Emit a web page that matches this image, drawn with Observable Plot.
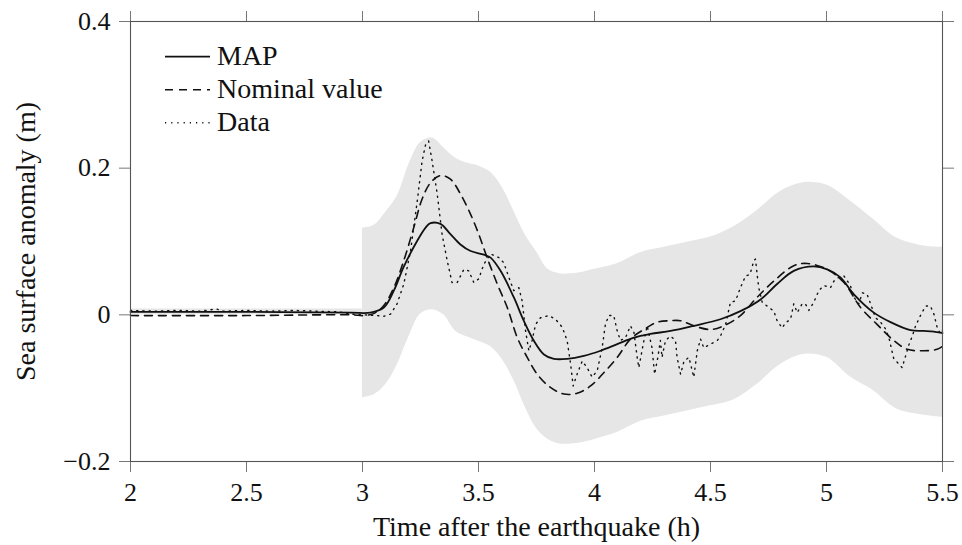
<!DOCTYPE html>
<html>
<head>
<meta charset="utf-8">
<script src="https://cdn.jsdelivr.net/npm/d3@7"></script>
<script src="https://cdn.jsdelivr.net/npm/@observablehq/plot@0.6"></script>
<style>
  html, body { margin: 0; padding: 0; background: #fff; }
  #chart svg { display: block; }
</style>
</head>
<body>
<div id="chart"></div>
<script>
// Time after the earthquake (h) and sea surface anomaly (m)

// MAP estimate
const mapT = [2.0, 2.5, 2.948, 3.034, 3.092, 3.135, 3.177, 3.236, 3.272, 3.293, 3.336, 3.379, 3.422, 3.466, 3.523, 3.552, 3.595, 3.652, 3.695, 3.738, 3.782, 3.825, 3.882, 3.954, 4.026, 4.098, 4.170, 4.241, 4.328, 4.428, 4.543, 4.629, 4.716, 4.787, 4.859, 4.945, 5.003, 5.060, 5.118, 5.204, 5.276, 5.362, 5.420, 5.463, 5.5];
const mapV = [0.004, 0.004, 0.003, 0.003, 0.010, 0.033, 0.065, 0.101, 0.119, 0.125, 0.124, 0.110, 0.096, 0.087, 0.082, 0.078, 0.060, 0.024, -0.008, -0.035, -0.054, -0.060, -0.060, -0.056, -0.049, -0.040, -0.031, -0.026, -0.022, -0.015, -0.006, 0.005, 0.021, 0.042, 0.060, 0.066, 0.062, 0.051, 0.028, 0.003, -0.010, -0.021, -0.022, -0.023, -0.025];

// Nominal value
const nomT = [2.0, 2.5, 2.948, 3.006, 3.05, 3.09, 3.135, 3.178, 3.221, 3.257, 3.293, 3.336, 3.379, 3.422, 3.466, 3.501, 3.537, 3.581, 3.624, 3.667, 3.710, 3.753, 3.810, 3.868, 3.925, 3.983, 4.040, 4.098, 4.155, 4.213, 4.270, 4.328, 4.371, 4.428, 4.500, 4.557, 4.629, 4.701, 4.773, 4.859, 4.917, 5.003, 5.075, 5.147, 5.218, 5.290, 5.348, 5.420, 5.477, 5.5];
const nomV = [-0.001, -0.001, 0.0, -0.001, 0.002, 0.012, 0.037, 0.074, 0.119, 0.158, 0.180, 0.190, 0.185, 0.165, 0.137, 0.110, 0.078, 0.042, 0.010, -0.031, -0.058, -0.081, -0.099, -0.108, -0.107, -0.097, -0.079, -0.058, -0.033, -0.020, -0.010, -0.008, -0.008, -0.015, -0.020, -0.015, -0.001, 0.024, 0.046, 0.067, 0.070, 0.062, 0.044, 0.010, -0.013, -0.035, -0.047, -0.049, -0.047, -0.043];

// Observed data
const dataT = [2.0, 2.1, 2.2, 2.3, 2.37, 2.4, 2.5, 2.6, 2.7, 2.8, 2.9, 2.948, 3.063, 3.092, 3.121, 3.149, 3.178, 3.207, 3.236, 3.257, 3.272, 3.285, 3.300, 3.322, 3.343, 3.365, 3.386, 3.408, 3.437, 3.458, 3.480, 3.501, 3.523, 3.552, 3.588, 3.609, 3.631, 3.652, 3.674, 3.688, 3.703, 3.717, 3.731, 3.746, 3.767, 3.803, 3.832, 3.861, 3.882, 3.897, 3.908, 3.925, 3.947, 3.968, 3.990, 4.012, 4.033, 4.047, 4.062, 4.083, 4.098, 4.112, 4.134, 4.155, 4.170, 4.184, 4.191, 4.213, 4.227, 4.248, 4.259, 4.273, 4.284, 4.291, 4.306, 4.328, 4.349, 4.356, 4.371, 4.386, 4.407, 4.421, 4.428, 4.443, 4.457, 4.471, 4.500, 4.529, 4.543, 4.565, 4.586, 4.608, 4.629, 4.651, 4.670, 4.687, 4.694, 4.701, 4.708, 4.723, 4.744, 4.773, 4.787, 4.809, 4.823, 4.845, 4.859, 4.874, 4.895, 4.909, 4.924, 4.945, 4.967, 4.988, 5.017, 5.032, 5.053, 5.075, 5.103, 5.118, 5.139, 5.155, 5.175, 5.190, 5.211, 5.233, 5.254, 5.269, 5.279, 5.290, 5.312, 5.326, 5.341, 5.356, 5.370, 5.384, 5.405, 5.427, 5.448, 5.463, 5.477, 5.491, 5.5];
const dataV = [0.006, 0.005, 0.006, 0.005, 0.008, 0.005, 0.006, 0.005, 0.006, 0.005, 0.004, 0.001, -0.001, -0.002, 0.001, 0.015, 0.042, 0.087, 0.155, 0.210, 0.232, 0.237, 0.210, 0.165, 0.110, 0.074, 0.044, 0.044, 0.062, 0.060, 0.044, 0.049, 0.069, 0.083, 0.078, 0.071, 0.051, 0.033, 0.037, 0.019, -0.022, -0.049, -0.035, -0.013, -0.004, -0.001, -0.006, -0.017, -0.035, -0.067, -0.097, -0.081, -0.063, -0.072, -0.085, -0.076, -0.045, -0.013, -0.001, -0.001, -0.022, -0.035, -0.031, -0.015, -0.024, -0.058, -0.072, -0.035, -0.015, -0.045, -0.081, -0.058, -0.035, -0.058, -0.035, -0.029, -0.035, -0.058, -0.081, -0.063, -0.058, -0.076, -0.085, -0.049, -0.033, -0.045, -0.040, -0.035, -0.029, -0.013, 0.017, 0.019, 0.037, 0.053, 0.055, 0.074, 0.076, 0.055, 0.037, 0.017, 0.012, 0.005, -0.008, -0.018, -0.011, -0.006, 0.015, 0.003, 0.015, 0.015, 0.006, 0.017, 0.033, 0.040, 0.037, 0.046, 0.051, 0.053, 0.040, 0.024, 0.015, 0.030, 0.028, 0.015, -0.004, -0.010, -0.019, -0.031, -0.045, -0.060, -0.067, -0.072, -0.056, -0.040, -0.029, -0.015, -0.001, 0.012, 0.012, 0.001, -0.017, -0.026, -0.022];

// Uncertainty band (lower / upper bounds)
const bandT  = [2.0, 2.999, 3.0, 3.05, 3.1, 3.15, 3.2, 3.25, 3.3, 3.35, 3.4, 3.45, 3.5, 3.55, 3.6, 3.65, 3.7, 3.75, 3.8, 3.85, 3.9, 3.95, 4.0, 4.1, 4.2, 4.3, 4.4, 4.5, 4.6, 4.7, 4.8, 4.9, 5.0, 5.1, 5.2, 5.3, 5.4, 5.5];
const bandHi = [0.008, 0.008, 0.118, 0.122, 0.140, 0.162, 0.205, 0.235, 0.241, 0.228, 0.214, 0.207, 0.203, 0.195, 0.175, 0.143, 0.110, 0.086, 0.062, 0.056, 0.056, 0.058, 0.062, 0.070, 0.085, 0.092, 0.099, 0.106, 0.120, 0.142, 0.168, 0.180, 0.177, 0.156, 0.131, 0.105, 0.095, 0.092];
const bandLo = [0.0, 0.0, -0.113, -0.109, -0.095, -0.068, -0.030, 0.001, 0.007, 0.0, -0.022, -0.030, -0.036, -0.043, -0.060, -0.088, -0.125, -0.155, -0.170, -0.176, -0.176, -0.174, -0.170, -0.160, -0.145, -0.138, -0.131, -0.124, -0.116, -0.095, -0.068, -0.054, -0.058, -0.084, -0.103, -0.128, -0.136, -0.140];

const xTicks = [2, 2.5, 3, 3.5, 4, 4.5, 5, 5.5];
const yTicks = [-0.2, 0, 0.2, 0.4];

const xLabel = "Time after the earthquake (h)";
const yLabel = "Sea surface anomaly (m)";
const legendItems = [
  {label: "MAP", dash: null, width: 1.8},
  {label: "Nominal value", dash: "8,6", width: 1.6},
  {label: "Data", dash: "1.2,5", width: 1.4}
];

const zip = (t, v) => t.map((d, i) => ({t: d, v: v[i]}));
const mapData = zip(mapT, mapV);
const nomData = zip(nomT, nomV);
const obsData = zip(dataT, dataV);
const band = bandT.map((t, i) => ({t, lo: bandLo[i], hi: bandHi[i], part: t < 3 ? "before" : "after"}));

const FONT = "'Liberation Serif', 'DejaVu Serif', serif";
const fmtX = d => String(d);
const fmtY = d => d === 0 ? "0" : d.toFixed(1).replace("-", "\u2212");

const chart = Plot.plot({
  width: 962,
  height: 545,
  marginLeft: 130,
  marginRight: 20,
  marginTop: 21,
  marginBottom: 84,
  style: {fontFamily: FONT, color: "#111", background: "#fff"},
  x: {domain: [2, 5.5]},
  y: {domain: [-0.2, 0.4]},
  marks: [
    Plot.areaY(band, {x: "t", y1: "lo", y2: "hi", z: "part", fill: "#e6e6e6", curve: "catmull-rom"}),
    Plot.line(obsData, {x: "t", y: "v", stroke: "#111", strokeWidth: 1.4, strokeDasharray: "1.2,5", curve: "linear"}),
    Plot.line(nomData, {x: "t", y: "v", stroke: "#111", strokeWidth: 1.6, strokeDasharray: "8,6", curve: "catmull-rom"}),
    Plot.line(mapData, {x: "t", y: "v", stroke: "#111", strokeWidth: 1.8, curve: "catmull-rom"}),
    Plot.axisX({ticks: xTicks, tickSize: 11, tickPadding: 10, fontSize: 26, tickFormat: fmtX, stroke: "#777", label: null}),
    Plot.axisX({anchor: "top", ticks: xTicks, tickSize: 11, tickFormat: () => "", stroke: "#777", label: null}),
    Plot.axisY({ticks: yTicks, tickSize: 11, tickPadding: 9, fontSize: 26, tickFormat: fmtY, stroke: "#777", label: null}),
    Plot.axisY({anchor: "right", ticks: yTicks, tickSize: 11, tickFormat: () => "", stroke: "#777", label: null}),
    Plot.frame({stroke: "#555", strokeWidth: 1.1}),
    Plot.text([xLabel], {text: d => d, frameAnchor: "bottom", dy: 66, fontSize: 28, lineAnchor: "middle", textAnchor: "middle"}),
    Plot.text([yLabel], {text: d => d, frameAnchor: "left", dx: -104, rotate: -90, fontSize: 28, lineAnchor: "middle", textAnchor: "middle"})
  ]
});

// Legend in the upper-left corner of the plotting area
const svg = d3.select(chart);
const lg = svg.append("g").attr("class", "legend")
  .attr("font-family", FONT).attr("font-size", 28).attr("fill", "#111").attr("text-anchor", "start");
legendItems.forEach((item, i) => {
  const y = 56.7 + i * 33;
  lg.append("line")
    .attr("x1", 165).attr("x2", 210).attr("y1", y).attr("y2", y)
    .attr("stroke", "#111").attr("stroke-width", item.width)
    .attr("stroke-dasharray", item.dash);
  lg.append("text").attr("x", 217).attr("y", y + 8.5).text(item.label);
});

document.getElementById("chart").appendChild(chart);
</script>
</body>
</html>
